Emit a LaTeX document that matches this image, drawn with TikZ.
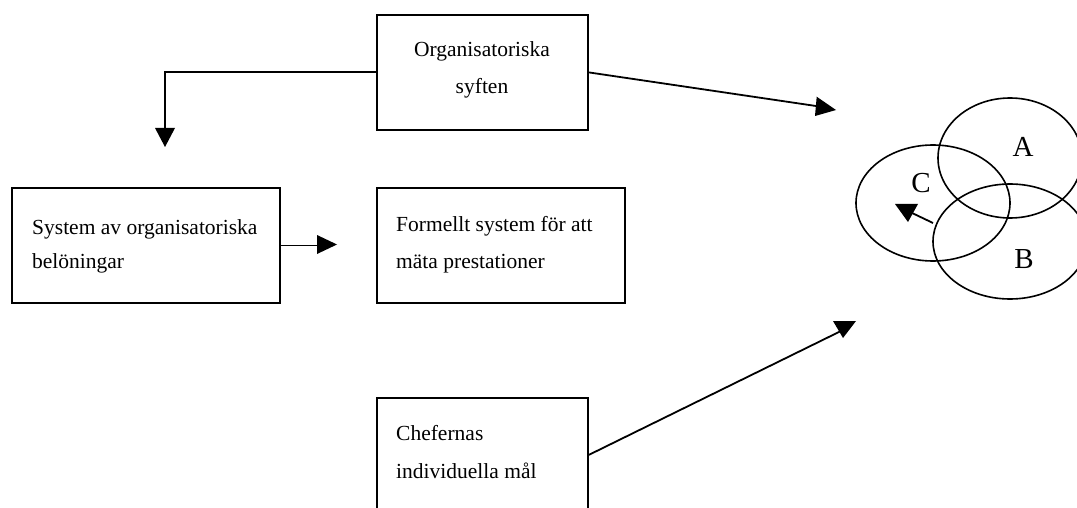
\documentclass[tikz,border=0pt]{standalone}
\usepackage{fontspec}
\setmainfont{Liberation Serif}
\begin{document}
\begin{tikzpicture}[x=1pt,y=-1pt,
  box/.style={draw,line width=1.8pt,rectangle,inner sep=0pt,anchor=north west},
  txt/.style={inner sep=0pt,anchor=base west,font=\fontsize{21.5}{25}\selectfont},
  ctxt/.style={txt,anchor=base},
  setlbl/.style={inner sep=0pt,font=\fontsize{29}{33}\selectfont},
  conn/.style={line width=1.8pt},
  head/.style={fill=black},
  ring/.style={line width=1.6pt}]
\useasboundingbox (0,0) rectangle (1077,508);
\clip (0,0) rectangle (1077,508);

% boxes
\node[box,minimum width=211pt,minimum height=115pt] (b1) at (376,14) {};
\node[box,minimum width=268pt,minimum height=115pt] (b2) at (11,187) {};
\node[box,minimum width=248pt,minimum height=115pt] (b3) at (376,187) {};
\node[box,minimum width=211pt,minimum height=114pt] (b4) at (376,397) {};

% box texts
\node[ctxt] (t1a) at (482,57) {Organisatoriska};
\node[ctxt] (t1b) at (482,94) {syften};
\node[txt] (t2a) at (32,234) {System av organisatoriska};
\node[txt] (t2b) at (32,268) {belöningar};
\node[txt] (t3a) at (396,232) {Formellt system för att};
\node[txt] (t3b) at (396,268) {mäta prestationer};
\node[txt] (t4a) at (396,440) {Chefernas};
\node[txt] (t4b) at (396,478) {individuella mål};

% overlapping sets
\draw[ring] (1010,158) ellipse [x radius=72pt,y radius=60pt];
\draw[ring] (933,203) ellipse [x radius=77pt,y radius=58pt];
\draw[ring] (1010,241.5) ellipse [x radius=77pt,y radius=57.5pt];
\node[setlbl] (la) at (1023,147) {A};
\node[setlbl] (lc) at (921,183) {C};
\node[setlbl] (lb) at (1024,259) {B};

% connector ends
\coordinate (e1) at (165,128);
\coordinate (e2) at (317,244.5);
\coordinate (e3) at (816,106);
\coordinate (e4) at (843,330);
\coordinate (s5) at (933,223);
\coordinate (e5) at (910,212);

% connectors
\draw[conn] (b1.west) -| (e1);
\draw[conn] (b2.east) -- (b2.east -| e2);
\draw[conn] (b1.east) -- (e3);
\draw[conn] (b4.east) -- (e4);
\draw[conn] (s5) -- (e5);

% arrow heads
\fill[head] (155,128) -- (175,128) -- (165,147) -- cycle;
\fill[head] (317,235) -- (317,254) -- (337,244.5) -- cycle;
\fill[head] (816.7,96.7) -- (815,116) -- (836,110) -- cycle;
\fill[head] (833,321) -- (856,321) -- (843,338) -- cycle;
\fill[head] (895,204) -- (918,204) -- (908,222) -- cycle;
\end{tikzpicture}
\end{document}
